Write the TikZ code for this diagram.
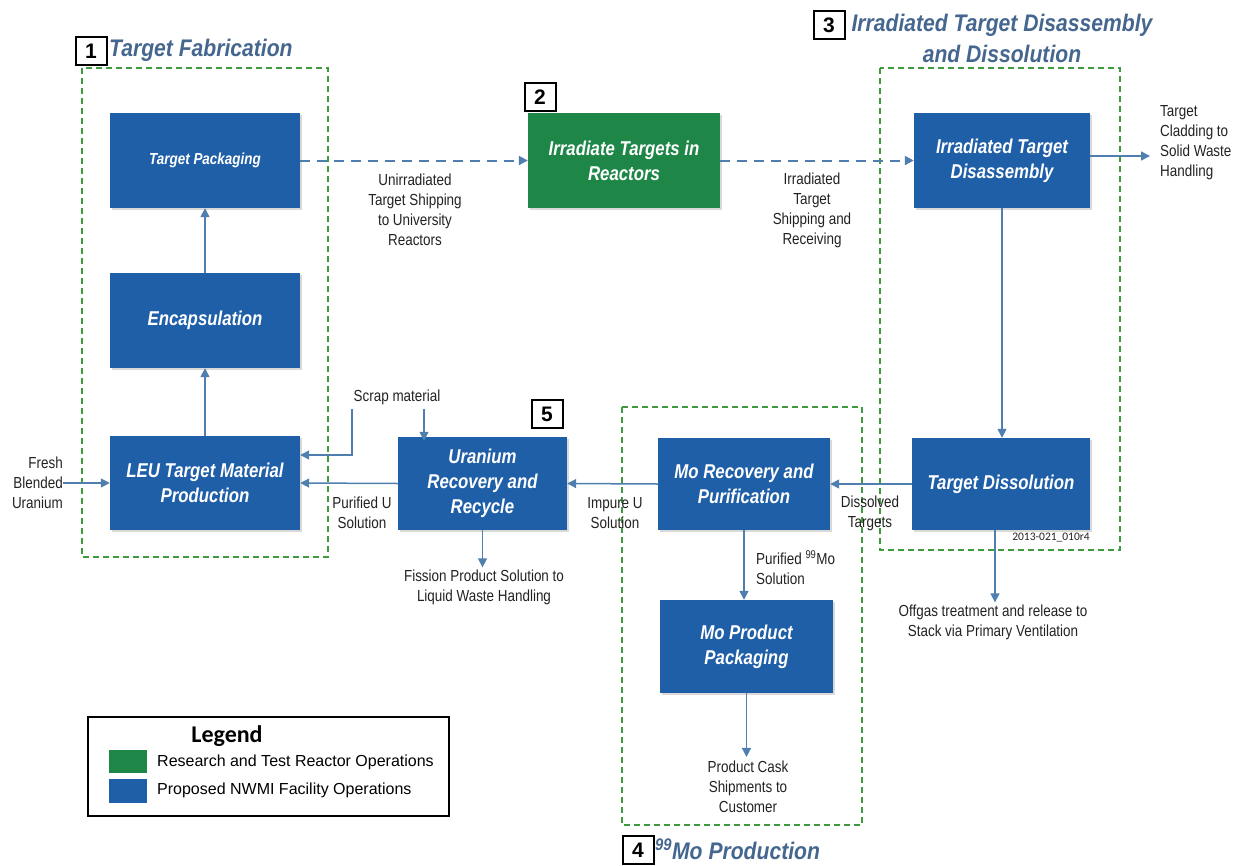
\documentclass[tikz,border=0pt]{standalone}
\usepackage{fontspec}
\setmainfont{Liberation Sans}
\newfontfamily\narrowf[FakeStretch=0.84]{Liberation Sans}
\newfontfamily\titlef[FakeStretch=0.88]{Liberation Sans}
\newfontfamily\legendf{Carlito}
\usetikzlibrary{arrows.meta,shadows}
\definecolor{boxblue}{HTML}{1F5FA8}
\definecolor{boxgreen}{HTML}{1E8747}
\definecolor{titleblue}{HTML}{44668F}
\definecolor{arrowblue}{HTML}{4F7FAF}
\definecolor{dashgreen}{HTML}{3D9A3D}
\definecolor{labelgray}{HTML}{222222}
\begin{document}
\begin{tikzpicture}[x=1pt,y=-1pt,
  proc/.style={fill=boxblue, text=white, align=center, inner sep=0pt,
    font=\narrowf\bfseries\itshape\fontsize{20}{25}\selectfont,
    drop shadow={shadow xshift=2pt, shadow yshift=-2pt, opacity=0.3}},
  greenproc/.style={proc, fill=boxgreen},
  arr/.style={draw=arrowblue, line width=1.5pt, -{Triangle[length=9pt,width=9pt]}},
  darr/.style={arr, line width=2pt, dash pattern=on 10pt off 7pt},
  group/.style={draw=dashgreen, line width=1.5pt, dash pattern=on 6pt off 4pt},
  numbox/.style={draw=black, line width=2pt, fill=white, minimum width=31pt, minimum height=28pt,
    inner sep=0pt, font=\bfseries\fontsize{21}{22}\selectfont},
  ttl/.style={text=titleblue, inner sep=0pt, align=center,
    font=\titlef\bfseries\itshape\fontsize{24}{31}\selectfont},
  lbl/.style={text=labelgray, inner sep=0pt, align=center,
    font=\narrowf\fontsize{16}{20}\selectfont}]
\useasboundingbox (0,0) rectangle (1244,865);

% group boxes
\draw[group] (82,68) rectangle (328,557);
\draw[group] (880,68) rectangle (1120,550);
\draw[group] (622,407) rectangle (862,825);

% process boxes
\node[proc, minimum width=190pt, minimum height=95pt, font=\narrowf\bfseries\itshape\fontsize{16}{19}\selectfont] (tp) at (205,160.5) {Target Packaging};
\node[proc, minimum width=190pt, minimum height=95pt] (enc) at (205,320.5) {Encapsulation};
\node[proc, minimum width=190pt, minimum height=94pt] (leu) at (205,483) {LEU Target Material\\Production};
\node[greenproc, minimum width=192pt, minimum height=95pt] (ir) at (624,160.5) {Irradiate Targets in\\Reactors};
\node[proc, minimum width=176pt, minimum height=95pt] (itd) at (1002,160.5) {Irradiated Target\\Disassembly};
\node[proc, minimum width=178pt, minimum height=92pt] (td) at (1001,484) {Target Dissolution};
\node[proc, minimum width=172pt, minimum height=92pt] (mor) at (744,484) {Mo Recovery and\\Purification};
\node[proc, minimum width=173pt, minimum height=93pt] (mopp) at (746.5,646.5) {Mo Product\\Packaging};
\node[proc, minimum width=169pt, minimum height=93pt] (urr) at (482.5,483.5) {Uranium\\Recovery and\\Recycle};

% section titles
\node[numbox] (n1) at (91,51) {1};
\node[ttl, anchor=west] (t1) at (109,50) {Target Fabrication};
\node[numbox] (n2) at (540,97) {2};
\node[numbox] (n3) at (829,25) {3};
\node[ttl] (t3) at (1002,38) {Irradiated Target Disassembly\\and Dissolution};
\node[numbox] (n5) at (547,414) {5};
\node[numbox] (n4) at (638,850) {4};
\node[ttl, anchor=west] (t4) at (655,849) {\textsuperscript{99}Mo Production};

% labels
\node[lbl, anchor=east, align=right] (fresh) at (63,483) {Fresh\\Blended\\Uranium};
\node[lbl] (unirr) at (415,210) {Unirradiated\\Target Shipping\\to University\\Reactors};
\node[lbl] (irrship) at (812,210) {Irradiated\\Target\\Shipping and\\Receiving};
\node[lbl, anchor=west, align=left] (clad) at (1160,143) {Target\\Cladding to\\Solid Waste\\Handling};
\node[lbl] (scrap) at (397,397) {Scrap material};
\node[lbl] (puru) at (362,513) {Purified U\\Solution};
\node[lbl] (impu) at (615,513) {Impure U\\Solution};
\node[lbl] (diss) at (870,513) {Dissolved\\Targets};
\node[lbl] (fission) at (484,587) {Fission Product Solution to\\Liquid Waste Handling};
\node[lbl, anchor=west, align=left] (purmo) at (756,568) {Purified \textsuperscript{99}Mo\\Solution};
\node[lbl] (offgas) at (993,622) {Offgas treatment and release to\\Stack via Primary Ventilation};
\node[lbl] (cask) at (748,787) {Product Cask\\Shipments to\\Customer};
\node[text=labelgray, inner sep=0pt, font=\legendf\fontsize{11.5}{12}\selectfont] (code) at (1051,538) {2013-021\_010r4};

% connectors
\draw[arr] (leu.north) -- (enc.south);
\draw[arr] (enc.north) -- (tp.south);
\draw[darr] (tp.east) -- (ir.west);
\draw[darr] (ir.east) -- (itd.west);
\coordinate (cladend) at (1150,156);
\draw[arr] (itd.east |- cladend) -- (cladend);
\draw[arr] (itd.south) -- (itd.south |- td.north);
\draw[arr] (td.west) -- (mor.east);
\draw[arr] (mor.west) -- (urr.east);
\draw[arr] (urr.west) -- (leu.east);
\draw[arr] (fresh.east) -- (leu.west);
\draw[arr] (mor.south) -- (mor.south |- mopp.north);
\draw[arr] (mopp.south) -- ([yshift=4pt]cask.north -| mopp.south);
\draw[arr] (urr.south) -- ([yshift=2pt]fission.north -| urr.south);
\coordinate (offtop) at ([xshift=-6pt]td.south);
\draw[arr] (offtop) -- ([yshift=2pt]offgas.north -| offtop);
\draw[arr] ([xshift=27pt,yshift=-4pt]scrap.south) -- ([xshift=27pt,yshift=-4pt]scrap.south |- urr.north);
\draw[arr] ([xshift=-45pt,yshift=-4pt]scrap.south) |- ([yshift=28pt]leu.east);

% legend
\node[draw=black, line width=1.8pt, minimum width=361pt, minimum height=99pt, anchor=north west, inner sep=0pt] (leg) at (87,716) {};
\node[inner sep=0pt, font=\legendf\bfseries\fontsize{24}{26}\selectfont] (legt) at (227,736) {Legend};
\node[fill=boxgreen, minimum width=38pt, minimum height=23pt, anchor=north west, inner sep=0pt] (lgg) at (109,750) {};
\node[anchor=west, inner sep=0pt, font=\fontsize{16}{18}\selectfont] (lggt) at (157,762) {Research and Test Reactor Operations};
\node[fill=boxblue, minimum width=38pt, minimum height=24pt, anchor=north west, inner sep=0pt] (lgb) at (109,779) {};
\node[anchor=west, inner sep=0pt, font=\fontsize{16}{18}\selectfont] (lgbt) at (157,790) {Proposed NWMI Facility Operations};
\end{tikzpicture}
\end{document}
